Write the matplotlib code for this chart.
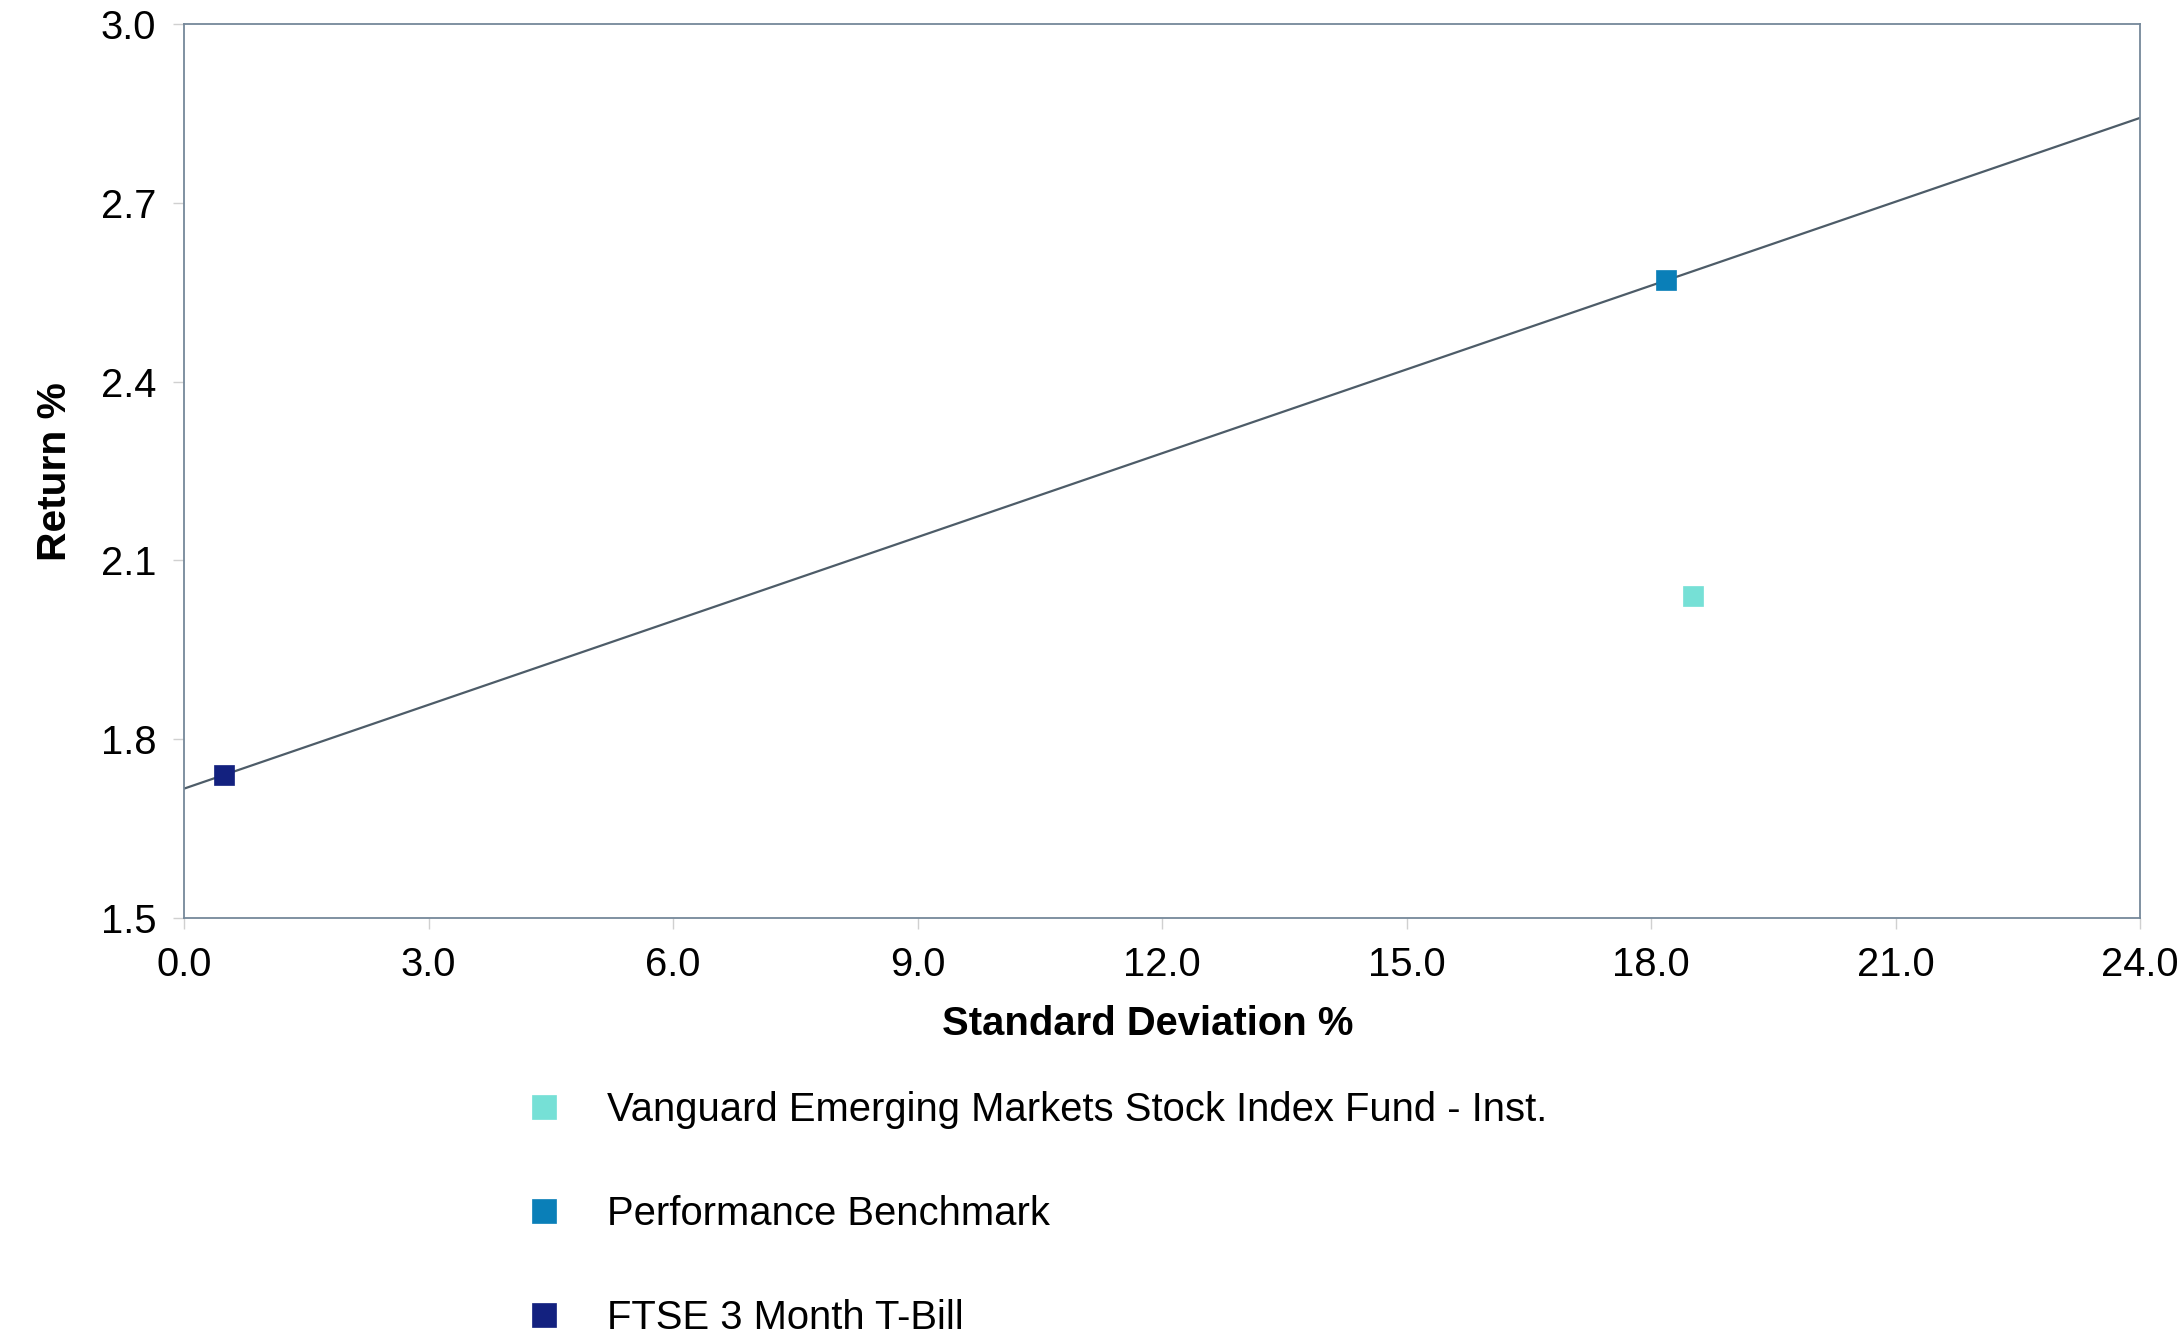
import matplotlib
matplotlib.use("Agg")
import matplotlib.pyplot as plt
import numpy as np

plt.rcParams['font.family'] = ['Liberation Sans', 'DejaVu Sans']

names = ["Vanguard Emerging Markets Stock Index Fund - Inst.",
         "Performance Benchmark",
         "FTSE 3 Month T-Bill"]
std_dev = [18.51, 18.19, 0.49]
returns = [2.04, 2.57, 1.74]
colors = ["#76e0d6", "#0a7fb8", "#13217f"]

xticks = [0.0, 3.0, 6.0, 9.0, 12.0, 15.0, 18.0, 21.0, 24.0]
yticks = [1.5, 1.8, 2.1, 2.4, 2.7, 3.0]

FS = 28.8
W, H = 2177, 1338
fig = plt.figure(figsize=(W / 100, H / 100), dpi=100)
ax = fig.add_axes([184 / W, 1 - 918 / H, (2140 - 184) / W, (918 - 24) / H])

# capital market line through T-Bill and benchmark
x0, y0 = std_dev[2], returns[2]
x1, y1 = std_dev[1], returns[1]
slope = (y1 - y0) / (x1 - x0)
lx = np.array([0.0, 24.0])
ax.plot(lx, y0 + slope * (lx - x0), color="#4d5c68", lw=1.6, zorder=2)

handles = []
for n, sx, ry, c in zip(names, std_dev, returns, colors):
    h, = ax.plot([sx], [ry], marker="s", ms=15, color=c, mec=c, mew=0.5,
                 linestyle="none", zorder=3, label=n)
    handles.append(h)

ax.set_xlim(0, 24)
ax.set_ylim(1.5, 3.0)
ax.set_xticks(xticks)
ax.set_yticks(yticks)
ax.set_xticklabels([f"{v:.1f}" for v in xticks])
ax.set_yticklabels([f"{v:.1f}" for v in yticks])
ax.tick_params(axis="both", labelsize=FS, length=8, width=1, color="#d0d0d0",
               direction="out")
ax.tick_params(axis="y", pad=12)
ax.tick_params(axis="x", pad=12)
for s in ax.spines.values():
    s.set_color("#75889a")
    s.set_linewidth(1.3)

fig.text(1148 / W, 1 - 1024 / H, "Standard Deviation %", ha="center", va="center",
         fontsize=FS, fontweight="bold")
fig.text(55 / W, 1 - 472 / H, "Return %", ha="center", va="center",
         rotation=90, fontsize=FS + 0.5, fontweight="bold")

leg = fig.legend(handles=handles, labels=names, loc="upper left",
                 bbox_to_anchor=(524 / W, 1 - 1091 / H), frameon=False,
                 fontsize=FS, handlelength=1.0, handletextpad=1.075,
                 labelspacing=1.65, borderpad=0, borderaxespad=0)
for lh in leg.legend_handles:
    lh.set_markersize(17.5)

fig.savefig("out.png", dpi=100)
